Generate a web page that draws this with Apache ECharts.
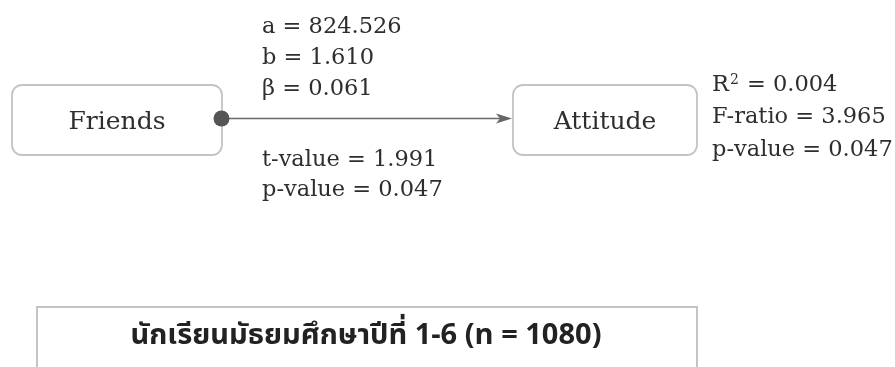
<!DOCTYPE html>
<html><head><meta charset="utf-8">
<script src="https://cdn.jsdelivr.net/npm/echarts@6/dist/echarts.min.js"></script>
<style>html,body{margin:0;padding:0;background:#fff}#c{width:895px;height:367px}</style>
</head><body><div id="c"></div><script>
// ---- data ----
const nodes = ['Friends', 'Attitude'];
const pathStatsAbove = ['a = 824.526', 'b = 1.610', 'β = 0.061'];
const pathStatsBelow = ['t-value = 1.991', 'p-value = 0.047'];
const modelStatNames = ['R', 'F-ratio', 'p-value'];
const modelStatSup = ['2', '', ''];
const modelStatValues = ['0.004', '3.965', '0.047'];
const sampleLabel = 'นักเรียนมัธยมศึกษาปีที่ 1-6 (n = 1080)';

// ---- layout (styling only) ----
const SERIF = '"DejaVu Serif", "Liberation Serif", serif';
const THAI = '"Noto Sans Thai", "Noto Sans", "DejaVu Sans", sans-serif';
const TXT = '#2e2e2e';
const BORDER = '#c4c4c4';
const boxes = [
  { x: 12, y: 85, w: 210, h: 70 },
  { x: 513, y: 85, w: 184, h: 70 }
];
const lineY = 118.5;

const chart = echarts.init(document.getElementById('c'), null, { renderer: 'canvas' });
const els = [];

nodes.forEach((name, i) => {
  const b = boxes[i];
  els.push({ type: 'rect', shape: { x: b.x, y: b.y, width: b.w, height: b.h, r: 10 },
    style: { fill: '#fff', stroke: BORDER, lineWidth: 1.8 } });
  els.push({ type: 'text', style: { text: name, x: b.x + b.w / 2, y: b.y + b.h / 2 + 2,
    align: 'center', verticalAlign: 'middle', font: '25px ' + SERIF, fill: TXT } });
});

// path arrow
const x0 = boxes[0].x + boxes[0].w - 0.5, x1 = boxes[1].x - 1;
els.push({ type: 'line', shape: { x1: x0, y1: lineY, x2: x1 - 8, y2: lineY },
  style: { stroke: '#6a6a6a', lineWidth: 1.6 } });
els.push({ type: 'polygon', shape: { points: [[x1, lineY], [x1 - 16, lineY - 5], [x1 - 12, lineY], [x1 - 16, lineY + 5]] },
  style: { fill: '#666' } });
els.push({ type: 'circle', shape: { cx: x0, cy: lineY, r: 8 }, style: { fill: '#555' } });

pathStatsAbove.forEach((t, i) => {
  els.push({ type: 'text', style: { text: t, x: 262, y: 27 + i * 31, align: 'left', verticalAlign: 'middle',
    font: '22.5px ' + SERIF, fill: TXT } });
});
pathStatsBelow.forEach((t, i) => {
  els.push({ type: 'text', style: { text: t, x: 262, y: 160 + i * 30, align: 'left', verticalAlign: 'middle',
    font: '22.5px ' + SERIF, fill: TXT } });
});
modelStatNames.forEach((n, i) => {
  els.push({ type: 'text', style: {
    text: '{n|' + n + '}' + (modelStatSup[i] ? '{s|' + modelStatSup[i] + '}' : '') + '{n| = ' + modelStatValues[i] + '}',
    x: 712, y: 85 + i * 32.5, align: 'left', verticalAlign: 'middle',
    rich: { n: { font: '22.5px ' + SERIF, fill: TXT, color: TXT },
            s: { font: '14px ' + SERIF, fill: TXT, color: TXT, verticalAlign: 'top', padding: [0, 1, 10, 1] } } } });
});

// sample box
els.push({ type: 'rect', shape: { x: 37, y: 307, width: 660, height: 80 },
  style: { fill: '#fff', stroke: BORDER, lineWidth: 2 } });
els.push({ type: 'text', style: { text: sampleLabel, x: 366, y: 338, align: 'center', verticalAlign: 'middle',
  font: 'bold 29px ' + THAI, fill: '#222' } });

chart.setOption({ animation: false, backgroundColor: '#fff', graphic: { elements: els } });
</script></body></html>
